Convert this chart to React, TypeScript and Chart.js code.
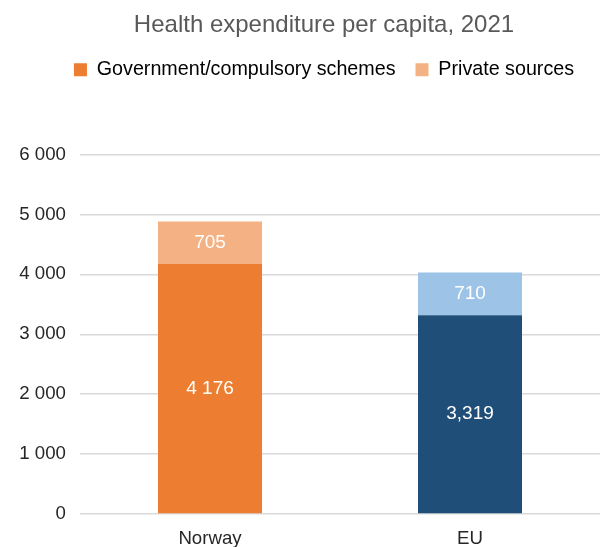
import React, { useEffect, useRef } from "react";
import { Chart, registerables } from "chart.js";

Chart.register(...registerables);

const categories = ["Norway", "EU"];
const govValues = [4176, 3319];
const privValues = [705, 710];
const govLabels = ["4 176", "3,319"];
const privLabels = ["705", "710"];
const govColors = ["#ED7D31", "#1F4E79"];
const privColors = ["#F4B183", "#9DC3E6"];
const seriesNames = ["Government/compulsory schemes", "Private sources"];
const yTickLabels = ["0", "1 000", "2 000", "3 000", "4 000", "5 000", "6 000"];
const titleText = "Health expenditure per capita, 2021";

const FONT = "'Liberation Sans', Arial, sans-serif";

const valueLabels = {
  id: "valueLabels",
  afterDatasetsDraw(chart: any) {
    const ctx = chart.ctx;
    const all = [govLabels, privLabels];
    ctx.save();
    ctx.fillStyle = "#ffffff";
    ctx.font = `19px ${FONT}`;
    ctx.textAlign = "center";
    ctx.textBaseline = "middle";
    chart.data.datasets.forEach((_ds: any, di: number) => {
      const meta = chart.getDatasetMeta(di);
      meta.data.forEach((bar: any, i: number) => {
        const y = (bar.y + bar.base) / 2;
        ctx.fillText(all[di][i], bar.x, y);
      });
    });
    ctx.restore();
  },
};

export default function App() {
  const ref = useRef<HTMLCanvasElement | null>(null);
  useEffect(() => {
    if (!ref.current) return;
    const chart = new Chart(ref.current, {
      type: "bar",
      data: {
        labels: categories,
        datasets: [
          {
            label: seriesNames[0],
            data: govValues,
            backgroundColor: govColors,
            barPercentage: 0.5,
            categoryPercentage: 0.8,
          },
          {
            label: seriesNames[1],
            data: privValues,
            backgroundColor: privColors,
            barPercentage: 0.5,
            categoryPercentage: 0.8,
          },
        ],
      },
      options: {
        animation: false,
        responsive: false,
        maintainAspectRatio: false,
        layout: { padding: { left: 48, right: 0, top: 0, bottom: 0 } },
        font: { family: FONT },
        plugins: {
          title: {
            display: true,
            text: titleText,
            color: "#595959",
            font: { family: FONT, size: 24, weight: "normal" },
            padding: { top: 11, bottom: 0 },
          },
          subtitle: {
            display: true,
            text: " ",
            weight: 500,
            font: { family: FONT, size: 10 },
            padding: { top: 53, bottom: 0 },
          } as any,
          legend: {
            display: true,
            position: "top",
            labels: {
              boxWidth: 13,
              boxHeight: 13,
              padding: 20,
              color: "#1a1a1a",
              font: { family: FONT, size: 19.7 },
              generateLabels: () =>
                seriesNames.map((name, i) => ({
                  text: name,
                  fillStyle: i === 0 ? govColors[0] : privColors[0],
                  strokeStyle: i === 0 ? govColors[0] : privColors[0],
                  lineWidth: 0,
                  hidden: false,
                  datasetIndex: i,
                })),
            },
          },
          tooltip: { enabled: false },
        },
        scales: {
          x: {
            stacked: true,
            grid: { display: false, drawTicks: false },
            border: { display: false },
            ticks: {
              color: "#262626",
              padding: 14,
              font: { family: FONT, size: 18.67 },
            },
            afterFit: (s: any) => {
              s.height = 33;
            },
          },
          y: {
            stacked: true,
            min: 0,
            max: 6000,
            grid: { color: "#d9d9d9", lineWidth: 1.5, drawTicks: false },
            border: { display: false },
            ticks: {
              stepSize: 1000,
              color: "#262626",
              padding: 14,
              font: { family: FONT, size: 18.67 },
              callback: (_v: any, idx: number) => yTickLabels[idx],
            },
            afterFit: (s: any) => {
              s.width = 32;
              // let the tick labels extend into the left padding
              s._computeLabelArea = () => undefined;
            },
          },
        },
      },
      plugins: [valueLabels],
    });
    return () => chart.destroy();
  }, []);
  return (
    <div style={{ position: "fixed", left: 0, top: 0, width: 600, height: 547 }}>
      <canvas ref={ref} width={600} height={547} style={{ display: "block" }} />
    </div>
  );
}
